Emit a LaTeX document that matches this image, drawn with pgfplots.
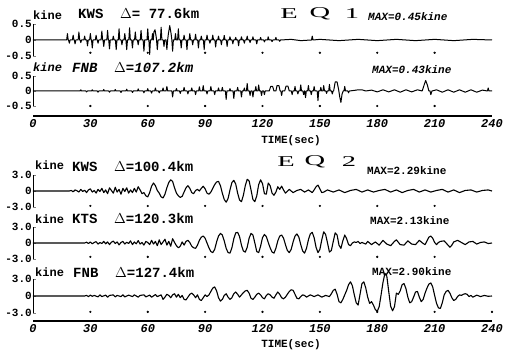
\documentclass[border=0pt]{standalone}
\usepackage{fontspec}
\setmainfont{Liberation Sans}
\newfontfamily\mono{Liberation Mono}
\newfontfamily\serifface{Liberation Serif}
\usepackage{graphicx}
\usepackage{pgfplots}
\pgfplotsset{compat=1.18}
\newcommand\fs[1]{\fontsize{#1}{#1}\selectfont}
\pgfplotsset{
 trace/.style={scale only axis, width=459pt, xmin=0, xmax=240, clip=false, hide x axis,
   axis y line*=left, y axis line style={-, line width=0.8pt}, tick align=inside,
   major tick length=3pt, ytick style={line width=0.8pt},
   yticklabel style={font=\mono\bfseries\fs{11}, inner sep=1pt}, anchor=south west},
 tr/.style={black, line width=1.1pt, line join=round},
 dots/.style={only marks, mark=*, mark size=0.9pt, black},
 timeaxis/.style={scale only axis, width=459pt, height=10pt, xmin=0, xmax=240, ymin=0, ymax=1,
   hide y axis, axis x line*=bottom, x axis line style={-, line width=1.6pt},
   xtick={0,30,...,240}, xtick style={draw=none},
   xticklabel style={font=\mono\bfseries\itshape\fs{12}},
   /pgf/number format/assume math mode=true, anchor=south west}
}
\begin{document}
\begin{tikzpicture}
\path[use as bounding box] (0pt,0pt) rectangle (505pt,-355pt);

% ================= EQ1 =================
\begin{axis}[trace, at={(33pt,-56pt)}, height=32pt, ymin=-0.5, ymax=0.5,
  ytick={-0.5,0,0.5}, yticklabels={-0.5,0,0.5}]
\addplot[tr, line width=1pt] coordinates {(0,0)(17.6,0)(18,0.2)(18.4,0)(18.6,0)(19,-0.1)(19.4,0)(20.6,0)(21,0.15)(21.4,0)(21.6,0)(22,-0.12)(22.4,0)(23.6,0)(24,0.25)(24.4,0)(24.6,0)(25,-0.08)(25.4,0)(26.6,0)(27,0.12)(27.4,0)(28.1,0)(28.5,-0.18)(28.9,0)(29.6,0)(30,0.2)(30.4,0)(30.6,0)(31,-0.25)(31.4,0)(32.6,0)(33,0.15)(33.4,0)(33.6,0)(34,-0.1)(34.4,0)(35.6,0)(36,0.28)(36.4,0)(36.6,0)(37,-0.2)(37.4,0)(38.6,0)(39,0.3)(39.4,0)(39.6,0)(40,-0.28)(40.4,0)(41.6,0)(42,0.12)(42.4,0)(43.1,0)(43.5,-0.3)(43.9,0)(44.6,0)(45,0.35)(45.4,0)(46.1,0)(46.5,-0.15)(46.9,0)(47.6,0)(48,0.2)(48.4,0)(48.6,0)(49,-0.3)(49.4,0)(50.1,0)(50.5,0.38)(50.9,0)(51.6,0)(52,-0.25)(52.4,0)(53.1,0)(53.5,0.25)(53.9,0)(54.6,0)(55,-0.15)(55.4,0)(56.1,0)(56.5,0.3)(56.9,0)(57.6,0)(58,-0.35)(58.4,0)(59.6,0)(60,0.35)(60.4,0)(60.6,0)(61,-0.45)(61.4,0)(62.1,0)(62.5,0.2)(62.9,0)(63.2,0.25)(63.8,0.32)(64.4,0.1)(64.6,0)(65,-0.3)(65.4,0)(66.6,0)(67,0.4)(67.4,0)(68.1,0)(68.5,-0.2)(68.9,0)(69.6,0)(70,-0.3)(70.4,0)(70.8,0.2)(71.5,0.45)(72.2,0.2)(72.6,0)(73,-0.35)(73.4,0)(74.1,0)(74.5,0.2)(74.9,0)(75.6,0)(76,0.35)(76.4,0)(77.1,0)(77.5,-0.25)(77.9,0)(78.6,0)(79,0.15)(79.4,0)(80.1,0)(80.5,-0.3)(80.9,0)(81.6,0)(82,0.2)(82.4,0)(83.1,0)(83.5,-0.15)(83.9,0)(84.6,0)(85,0.18)(85.4,0)(86.1,0)(86.5,-0.25)(86.9,0)(87.6,0)(88,0.12)(88.4,0)(89.1,0)(89.5,-0.3)(89.9,0)(90.6,0)(91,0.15)(91.4,0)(92.1,0)(92.5,-0.1)(92.9,0)(93.6,0)(94,0.15)(94.4,0)(95.1,0)(95.5,-0.22)(95.9,0)(96.6,0)(97,0.12)(97.4,0)(98.1,0)(98.5,-0.15)(98.9,0)(99.6,0)(100,0.14)(100.4,0)(101.1,0)(101.5,-0.2)(101.9,0)(102.6,0)(103,0.1)(103.4,0)(104.1,0)(104.5,-0.12)(104.9,0)(105.6,0)(106,0.08)(106.4,0)(107.1,0)(107.5,-0.18)(107.9,0)(108.6,0)(109,0.1)(109.4,0)(110.1,0)(110.5,-0.1)(110.9,0)(111.6,0)(112,0.12)(112.4,0)(113.1,0)(113.5,-0.08)(113.9,0)(114.6,0)(115,0.1)(115.4,0)(116.6,0)(117,-0.12)(117.4,0)(118.6,0)(119,0.08)(119.4,0)(120.6,0)(121,-0.06)(121.4,0)(122.6,0)(123,0.1)(123.4,0)(124.6,0)(125,-0.05)(125.4,0)(126.6,0)(127,0.08)(127.4,0)(128.6,0)(129,-0.04)(129.4,0)(135,0.02)(140,-0.02)(145.6,0)(146,0.12)(146.4,0)(150,0.02)(160,-0.02)(170,0.02)(180,-0.02)(190,0.02)(200,-0.02)(210,0.02)(220,-0.02)(230,0.02)(240,0)};
\addplot[dots] coordinates {(30,-0.4)(60,-0.4)(90,-0.4)(120,-0.4)(150,-0.4)(180,-0.4)(210,-0.4)};
\end{axis}

\begin{axis}[trace, at={(33pt,-106pt)}, height=30pt, ymin=-0.5, ymax=0.5,
  ytick={-0.5,0,0.5}, yticklabels={-0.5,0,0.5}]
\addplot[tr, line width=1pt] coordinates {(0,0)(24.6,0)(25,0.04)(25.4,0)(27.6,0)(28,-0.03)(28.4,0)(30.6,0)(31,0.04)(31.4,0)(33.6,0)(34,-0.04)(34.4,0)(36.6,0)(37,0.05)(37.4,0)(39.6,0)(40,-0.04)(40.4,0)(42.6,0)(43,0.05)(43.4,0)(45.6,0)(46,-0.05)(46.4,0)(48.6,0)(49,0.06)(49.4,0)(51.6,0)(52,-0.05)(52.4,0)(54.6,0)(55,0.07)(55.4,0)(57.6,0)(58,-0.06)(58.4,0)(59.6,0)(60,0.08)(60.4,0)(61.6,0)(62,-0.07)(62.4,0)(63.6,0)(64,0.1)(64.4,0)(65.6,0)(66,-0.06)(66.4,0)(67.6,0)(68,0.1)(68.4,0)(69.6,0)(70,0.15)(70.4,0)(72.6,0)(73,-0.2)(73.4,0)(74.6,0)(75,0.08)(75.4,0)(76.6,0)(77,-0.08)(77.4,0)(78.6,0)(79,0.12)(79.4,0)(80.6,0)(81,-0.1)(81.4,0)(82.6,0)(83,0.1)(83.4,0)(84.6,0)(85,-0.12)(85.4,0)(86.6,0)(87,0.14)(87.4,0)(88.6,0)(89,0.18)(89.4,0)(90.6,0)(91,-0.1)(91.4,0)(92.6,0)(93,0.15)(93.4,0)(94.6,0)(95,-0.12)(95.4,0)(96.6,0)(97,0.1)(97.4,0)(98.6,0)(99,0.12)(99.4,0)(100.6,0)(101,-0.28)(101.4,0)(102.6,0)(103,0.08)(103.4,0)(104.6,0)(105,-0.25)(105.4,0)(106.6,0)(107,0.12)(107.4,0)(108.6,0)(109,-0.2)(109.4,0)(110.1,0)(110.5,0.1)(110.9,0)(111.6,0)(112,0.25)(112.4,0)(113.1,0)(113.5,-0.15)(113.9,0)(114.6,0)(115,-0.2)(115.4,0)(116.1,0)(116.5,0.15)(116.9,0)(117.6,0)(118,0.2)(118.4,0)(119.1,0)(119.5,-0.15)(119.9,0)(120.6,0)(121,-0.12)(121.4,0)(123.5,0)(124.3,0.15)(125.3,0.15)(126,0)(127,0)(127.6,0.18)(128.6,0.18)(129.2,0)(129.6,0)(130,-0.15)(130.4,0)(131.6,0)(132.3,0.16)(133.3,0.16)(134,0)(135.1,0)(135.5,-0.12)(135.9,0)(136.6,0)(137,0.15)(137.4,0)(138.1,0)(138.5,-0.1)(138.9,0)(139.6,0)(140,0.2)(140.4,0)(141.1,0)(141.5,-0.12)(141.9,0)(142.1,0)(142.5,-0.22)(142.9,0)(143.6,0)(144,0.18)(144.4,0)(145.1,0)(145.5,-0.12)(145.9,0)(146.6,0)(147,0.15)(147.4,0)(148.6,0)(149,-0.32)(149.4,0)(150.1,0)(150.5,0.12)(150.9,0)(151.6,0)(152,0.18)(152.4,0)(153.1,0)(153.5,-0.08)(153.9,0)(154.6,0)(155,0.22)(155.4,0)(156.1,0)(156.5,-0.1)(156.9,0)(157.2,0)(158,0.3)(159,0.3)(159.8,0.05)(160.4,-0.2)(161,-0.38)(161.6,-0.1)(162.2,0)(162.6,0)(163,0.15)(163.4,0)(164.6,0)(165,-0.06)(165.4,0)(168,0.02)(170,0.04)(172,0.04)(174,0)(177,0.03)(180,-0.03)(183,0.04)(186,-0.03)(189,0.04)(192,-0.04)(195,0.04)(198,-0.03)(201,0.04)(203.5,0)(204.5,0.2)(205.3,0.35)(206.2,0.2)(207,0)(207.6,0)(208,-0.12)(208.6,0)(211,0.04)(214,-0.04)(217,0.04)(220,-0.04)(223,0.04)(226,-0.04)(229,0.04)(232,-0.04)(235,0.03)(237.6,0)(238,0.1)(238.4,0)(240,0)};
\addplot[dots] coordinates {(30,-0.5)(60,-0.5)(90,-0.5)(120,-0.5)(150,-0.5)(180,-0.5)(210,-0.5)};
\end{axis}

\begin{axis}[timeaxis, at={(33pt,-116pt)}]
\end{axis}

\node[anchor=west, inner sep=0, font=\mono\bfseries\fs{12}] at (33pt,-15pt) {kine};
\node[anchor=west, inner sep=0, font=\mono\bfseries\fs{14}] at (78pt,-13pt) {KWS~~\(\Delta\)=~77.6km};
\node[font=\serifface\fs{15}] at (289pt,-13.5pt) {\scalebox{1.9}[1]{E}};
\node[font=\serifface\fs{15}] at (320pt,-13.5pt) {\scalebox{1.9}[1]{Q}};
\node[font=\serifface\fs{15}] at (352pt,-13.5pt) {\scalebox{1.9}[1]{1}};
\node[anchor=west, inner sep=0, font=\mono\bfseries\itshape\fs{11}] at (368pt,-17pt) {MAX=0.45kine};
\node[anchor=west, inner sep=0, font=\mono\bfseries\itshape\fs{12}] at (33pt,-67pt) {kine};
\node[anchor=west, inner sep=0, font=\mono\bfseries\itshape\fs{14}] at (72pt,-67pt) {FNB~~\(\Delta\)=107.2km};
\node[anchor=west, inner sep=0, font=\mono\bfseries\itshape\fs{11}] at (372pt,-70pt) {MAX=0.43kine};
\node[font=\mono\bfseries\fs{11}] at (291pt,-141pt) {TIME(sec)};

% ================= EQ2 =================
\begin{axis}[trace, at={(33pt,-207pt)}, height=32pt, ymin=-3, ymax=3,
  ytick={-3,0,3}, yticklabels={-3.0,0,3.0}]
\addplot[tr] coordinates {(0,0)(19,0)(20,0.1)(21,-0.15)(22,0.2)(23,0.05)(24,-0.2)(25,0.3)(26,-0.1)(27,0.15)(28,-0.3)(29,0.2)(30,0.4)(31,-0.2)(32,0.1)(33,-0.4)(34,0.3)(35,-0.1)(36,0.5)(37,-0.3)(38,0.2)(39,-0.5)(40,0.6)(41,0.1)(42,-0.4)(43,0.7)(44,-0.2)(45,0.3)(46,-0.6)(47,0.5)(48,-0.1)(49,0.6)(50,-0.4)(51,0.2)(52,-0.3)(53,0.5)(54,-0.2)(55,0.8)(56,0.2)(57,-0.5)(58,-0.3)(59,-0.9)(60,-1.1)(61,-0.3)(62,0.9)(63,1.5)(64,1.0)(65,0.1)(66,-0.4)(67,-1.1)(68,-1.3)(69,-0.6)(70,0.6)(71,1.6)(72,2.1)(73,1.8)(74,0.6)(75,-0.4)(76,-0.9)(77,-1.2)(78,-1.0)(79,-0.2)(80,0.6)(81,1.0)(82,0.5)(83,-0.3)(84,-0.5)(85,0.1)(86,0.3)(87,0.0)(88,0.5)(89,0.9)(90,0.4)(91,-0.4)(92,-0.6)(93,-0.2)(94,0.5)(95,1.2)(96,1.7)(97,1.8)(98,1.0)(99,-0.4)(100,-1.6)(101,-2.1)(102,-1.4)(103,0.2)(104,1.6)(105,2.0)(106,1.3)(107,-0.4)(108,-1.7)(109,-2.0)(110,-0.8)(111,1.0)(112,2.2)(113,1.9)(114,0.2)(115,-1.6)(116,-2.0)(117,-0.9)(118,1.2)(119,2.1)(120,1.4)(121,-0.5)(122,-0.6)(123,1.5)(124,1.0)(125,-0.4)(126,-0.8)(127,-0.2)(128,0.8)(129,0.3)(130,0.9)(131,0.2)(132,-0.4)(134,0.3)(136,-0.3)(138,0.1)(140,0.3)(142,-0.2)(144,0.2)(146,-0.3)(147,0.2)(148,0.8)(149,1.1)(150,0.4)(151,-0.3)(152,-0.2)(154,0.2)(157,-0.2)(160,0.2)(163,-0.3)(166,0.1)(169,0.3)(172,-0.2)(175,0.2)(178,-0.2)(181,0.1)(184,0.3)(187,-0.2)(190,0.2)(193,-0.3)(196,0.1)(199,0.3)(202,-0.2)(205,0.2)(208,-0.2)(211,0.1)(214,0.3)(217,-0.2)(220,0.2)(223,-0.3)(226,0.1)(229,0.2)(232,-0.2)(235,0.1)(238,0.2)(240,0)};
\addplot[dots] coordinates {(30,-2.8)(60,-2.8)(90,-2.8)(120,-2.8)(150,-2.8)(180,-2.8)(210,-2.8)};
\end{axis}

\begin{axis}[trace, at={(33pt,-259pt)}, height=32pt, ymin=-3, ymax=3,
  ytick={-3,0,3}, yticklabels={-3.0,0,3.0}]
\addplot[tr] coordinates {(0,0)(27,0)(28,0.15)(29,-0.1)(30,0.2)(31,-0.15)(32,0.1)(33,0.25)(34,-0.2)(35,0.1)(36,-0.1)(37,0.3)(38,-0.15)(39,0.2)(40,-0.3)(41,0.15)(42,0.35)(43,-0.1)(44,0.2)(45,-0.35)(46,0.1)(47,0.3)(48,-0.2)(49,0.15)(50,-0.1)(51,0.4)(52,-0.3)(53,0.2)(54,-0.15)(55,0.45)(56,-0.2)(57,0.1)(58,-0.4)(59,0.3)(60,0.1)(61,-0.3)(62,0.5)(63,-0.2)(64,0.3)(65,-0.5)(66,0.6)(67,-0.3)(68,0.2)(69,0.7)(70,-0.4)(71,0.3)(72,-0.6)(73,0.8)(74,0.1)(75,-0.5)(76,-0.9)(77,-0.6)(78,0.2)(79,-0.4)(80,0.3)(81,0.5)(82,0.1)(83,-0.6)(84,-0.9)(85,-1.0)(86,-0.4)(87,0.5)(88,1.1)(89,1.3)(90,0.9)(91,0.0)(92,-0.9)(93,-1.6)(94,-1.8)(95,-1.2)(96,0.2)(97,1.3)(98,1.8)(99,1.5)(100,0.4)(101,-1.0)(102,-1.8)(103,-1.9)(104,-0.9)(105,0.8)(106,1.9)(107,2.0)(108,1.2)(109,-0.4)(110,-1.5)(111,-1.7)(112,-0.8)(113,0.9)(114,1.8)(115,1.5)(116,0.0)(117,-1.6)(118,-1.8)(119,-0.6)(120,1.0)(121,1.6)(122,1.2)(123,0.1)(124,-0.9)(125,-1.7)(126,-1.9)(127,-1.0)(128,0.4)(129,1.3)(130,1.5)(131,0.9)(132,-0.3)(133,-1.4)(134,-1.8)(135,-1.2)(136,0.2)(137,1.3)(138,1.7)(139,1.1)(140,-0.3)(141,-1.5)(142,-1.9)(143,-1.0)(144,0.6)(145,1.7)(146,2.0)(147,1.0)(148,-0.8)(149,-1.8)(150,-1.2)(151,0.6)(152,2.1)(153,1.6)(154,0.0)(155,-1.7)(156,-1.4)(157,0.3)(158,1.9)(159,1.5)(160,-0.4)(161,-1.0)(162,0.4)(163,1.5)(164,0.8)(165,-0.3)(166,-0.5)(167,0.0)(168,0.2)(169,0.1)(170,0.3)(171,-0.1)(172,0.1)(174,-0.2)(175,0.3)(177,-0.3)(179,0.2)(181,-0.4)(183,0.5)(185,-0.2)(187,-0.5)(189,0.3)(190,0.6)(192,-0.3)(194,-0.4)(196,0.4)(198,-0.2)(200,-0.3)(202,0.5)(204,-0.1)(205,-0.3)(206,0.4)(207,1.1)(208,1.3)(209,0.9)(210,0.1)(211,-0.3)(212,0.1)(213,0.3)(215,0.4)(217,-0.4)(218,-0.8)(219,-0.4)(220,0.2)(222,0.5)(224,0.1)(226,-0.3)(228,0.2)(230,0.3)(232,-0.2)(234,0.1)(236,0.2)(238,-0.1)(240,0)};
\addplot[dots] coordinates {(30,-2.6)(60,-2.6)(90,-2.6)(120,-2.6)(150,-2.6)(180,-2.6)(210,-2.6)};
\end{axis}

\begin{axis}[trace, at={(33pt,-313pt)}, height=34pt, ymin=-3, ymax=3,
  ytick={-3,0,3}, yticklabels={-3.0,0,3.0}]
\addplot[tr] coordinates {(0,0)(27,0)(28,0.1)(29,-0.1)(30,0.15)(31,-0.05)(32,0.1)(34,-0.15)(35,0.2)(36,-0.1)(38,0.15)(39,-0.2)(40,0.1)(42,0.2)(43,-0.15)(44,0.1)(46,-0.1)(47,0.2)(48,-0.15)(50,0.15)(52,-0.1)(53,0.2)(55,-0.2)(56,0.1)(58,0.2)(59,-0.15)(61,0.15)(62,-0.2)(64,0.25)(65,-0.1)(67,0.2)(68,-0.6)(69,-0.2)(70,0.3)(71,0.1)(72,-0.3)(73,0.2)(74,0.4)(75,-0.2)(76,0.3)(77,-0.3)(78,0.1)(79,-0.6)(80,-0.7)(81,-0.2)(82,0.3)(83,0.5)(84,0.2)(85,-0.3)(86,0.2)(87,-0.6)(88,-0.8)(89,-0.3)(90,0.2)(91,-0.1)(92,0.2)(93,0.8)(94,1.4)(95,1.6)(96,0.9)(97,-0.3)(98,-0.9)(99,-0.6)(100,0.1)(101,0.4)(102,-0.2)(103,-0.6)(104,-0.3)(105,0.4)(106,0.7)(107,0.3)(108,-0.2)(109,0.2)(110,0.6)(111,0.9)(112,1.0)(113,0.5)(114,-0.4)(115,-0.6)(116,-0.2)(117,0.3)(118,0.5)(119,0.2)(120,-0.3)(121,-0.5)(122,0.1)(123,0.4)(124,0.2)(125,-0.2)(126,-0.4)(127,0.2)(128,0.7)(129,0.3)(130,-0.3)(131,-0.5)(132,-0.2)(133,0.3)(134,0.8)(135,1.1)(136,1.0)(137,0.3)(138,-0.4)(139,-0.5)(140,-0.1)(141,0.2)(142,0.1)(143,-0.2)(145,0.2)(147,-0.1)(149,0.2)(151,-0.2)(153,0.1)(155,-0.1)(156,0.4)(157,1.0)(158,1.2)(159,0.3)(160,-1.0)(161,-1.2)(162,-0.6)(163,0.2)(164,1.0)(165,2.0)(166,2.5)(167,1.8)(168,0.2)(169,-1.2)(170,-1.6)(171,0.3)(172,2.2)(173,2.5)(174,1.4)(175,-0.2)(176,-1.3)(177,-1.0)(178,-1.6)(179,-2.4)(180,-2.7)(181,-1.9)(182,0.2)(183,2.4)(184,4.0)(185,3.5)(186,0.8)(187,-1.8)(188,-2.6)(189,-1.9)(190,0.5)(191,0.3)(192,0.9)(193,2.0)(194,2.2)(195,1.3)(196,-0.2)(197,-1.2)(198,-1.0)(199,-0.2)(200,0.7)(201,0.8)(202,-0.2)(203,-1.0)(204,-0.6)(205,0.5)(206,1.4)(207,2.1)(208,2.3)(209,1.6)(210,0.1)(211,-1.3)(212,-2.1)(213,-2.2)(214,-1.2)(215,0.2)(216,0.8)(217,1.0)(218,0.5)(219,-0.3)(220,-0.8)(221,-0.6)(222,-0.1)(223,0.2)(224,0.1)(225,0.3)(226,0.4)(227,0.3)(228,-0.1)(229,0.1)(230,-0.2)(232,0.15)(234,-0.1)(236,0.1)(238,-0.05)(240,0)};
\addplot[dots] coordinates {(30,-2.8)(60,-2.8)(90,-2.8)(120,-2.8)(150,-2.8)(180,-2.8)(210,-2.8)(240,-2.8)};
\end{axis}

\begin{axis}[timeaxis, at={(33pt,-321pt)}]
\end{axis}

\node[anchor=west, inner sep=0, font=\mono\bfseries\fs{12}] at (35pt,-165pt) {kine};
\node[anchor=west, inner sep=0, font=\mono\bfseries\fs{14}] at (72pt,-166pt) {KWS~~\(\Delta\)=100.4km};
\node[font=\serifface\fs{15}] at (286pt,-162pt) {\scalebox{1.9}[1]{E}};
\node[font=\serifface\fs{15}] at (315pt,-162pt) {\scalebox{1.9}[1]{Q}};
\node[font=\serifface\fs{15}] at (349pt,-162pt) {\scalebox{1.9}[1]{2}};
\node[anchor=west, inner sep=0, font=\mono\bfseries\fs{11}] at (367pt,-171pt) {MAX=2.29kine};
\node[anchor=west, inner sep=0, font=\mono\bfseries\fs{12}] at (35pt,-219pt) {kine};
\node[anchor=west, inner sep=0, font=\mono\bfseries\fs{14}] at (72pt,-219pt) {KTS~~\(\Delta\)=120.3km};
\node[anchor=west, inner sep=0, font=\mono\bfseries\fs{11}] at (370pt,-221pt) {MAX=2.13kine};
\node[anchor=west, inner sep=0, font=\mono\bfseries\fs{12}] at (35pt,-272pt) {kine};
\node[anchor=west, inner sep=0, font=\mono\bfseries\fs{14}] at (73pt,-272pt) {FNB~~\(\Delta\)=127.4km};
\node[anchor=west, inner sep=0, font=\mono\bfseries\fs{11}] at (372pt,-272pt) {MAX=2.90kine};
\node[font=\mono\bfseries\fs{11}] at (291pt,-345pt) {TIME(sec)};
\end{tikzpicture}
\end{document}
